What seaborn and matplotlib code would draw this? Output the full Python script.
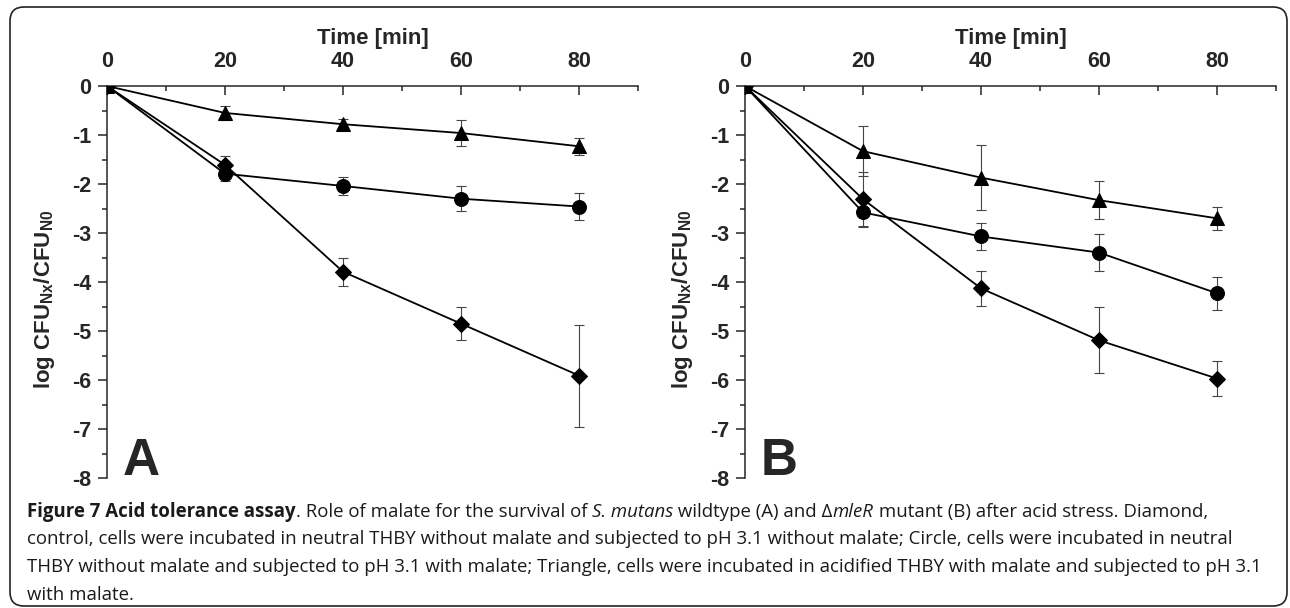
import numpy as np
import pandas as pd
import seaborn as sns
import matplotlib.pyplot as plt
from matplotlib.patches import FancyBboxPatch
from matplotlib.ticker import MultipleLocator
from matplotlib.transforms import IdentityTransform

times = [0, 20, 40, 60, 80]

# panel A (wildtype)
a_diamond = [0, -1.61, -3.79, -4.85, -5.91]
a_diamond_err = [0, 0.19, 0.29, 0.33, 1.04]
a_circle = [0, -1.79, -2.04, -2.30, -2.46]
a_circle_err = [0, 0.15, 0.19, 0.25, 0.28]
a_triangle = [0, -0.55, -0.78, -0.96, -1.23]
a_triangle_err = [0, 0.15, 0.10, 0.26, 0.17]

# panel B (mleR mutant)
b_diamond = [0, -2.31, -4.13, -5.19, -5.97]
b_diamond_err = [0, 0.56, 0.36, 0.67, 0.35]
b_circle = [0, -2.58, -3.07, -3.40, -4.23]
b_circle_err = [0, 0.28, 0.28, 0.38, 0.34]
b_triangle = [0, -1.33, -1.87, -2.33, -2.70]
b_triangle_err = [0, 0.51, 0.66, 0.39, 0.24]

conditions = ["Diamond", "Circle", "Triangle"]
markers = {"Diamond": "D", "Circle": "o", "Triangle": "^"}
marker_sizes = {"Diamond": 8.5, "Circle": 10, "Triangle": 10.5}

panels = {
    "A": {"Diamond": (a_diamond, a_diamond_err),
          "Circle": (a_circle, a_circle_err),
          "Triangle": (a_triangle, a_triangle_err)},
    "B": {"Diamond": (b_diamond, b_diamond_err),
          "Circle": (b_circle, b_circle_err),
          "Triangle": (b_triangle, b_triangle_err)},
}

sns.set_theme(style="ticks")
plt.rcParams["font.family"] = ["Liberation Sans", "DejaVu Sans"]
plt.rcParams["mathtext.fontset"] = "custom"
plt.rcParams["mathtext.bf"] = "Liberation Sans:bold"
plt.rcParams["mathtext.rm"] = "Liberation Sans:bold"

fig = plt.figure(figsize=(12.9, 6.08), dpi=100)
W, H = 1290, 608


def px_axes(left, top, right, bottom):
    return fig.add_axes([left / W, 1 - bottom / H, (right - left) / W, (bottom - top) / H])


ax_a = px_axes(107, 86, 638, 478)
ax_b = px_axes(745, 86, 1276, 478)

for letter, ax in (("A", ax_a), ("B", ax_b)):
    rows = []
    for cond in conditions:
        vals, errs = panels[letter][cond]
        for t, v, e in zip(times, vals, errs):
            rows.append({"Time": t, "value": v, "err": e, "cond": cond})
    df = pd.DataFrame(rows)

    for cond in conditions:
        sub = df[df["cond"] == cond]
        ax.errorbar(sub["Time"], sub["value"], yerr=sub["err"], fmt="none",
                    ecolor="#444444", elinewidth=0.8, capsize=3.5, capthick=0.8,
                    zorder=2)
        sns.lineplot(data=sub, x="Time", y="value", ax=ax, color="black",
                     marker=markers[cond], markersize=marker_sizes[cond],
                     markeredgecolor="black", markerfacecolor="black",
                     linewidth=1.3, zorder=3, legend=False)

    ax.set_xlim(0, 90)
    ax.set_ylim(-8, 0)
    ax.xaxis.tick_top()
    ax.xaxis.set_label_position("top")
    ax.set_xticks([0, 20, 40, 60, 80])
    ax.xaxis.set_minor_locator(MultipleLocator(10))
    ax.yaxis.set_major_locator(MultipleLocator(1))
    ax.yaxis.set_minor_locator(MultipleLocator(0.5))
    ax.spines["right"].set_visible(False)
    ax.spines["bottom"].set_visible(False)
    ax.spines["top"].set_linewidth(1.1)
    ax.spines["left"].set_linewidth(1.1)
    ax.tick_params(axis="x", which="both", direction="in", top=True, bottom=False,
                   width=1.1, labelsize=15.5, pad=10)
    ax.tick_params(axis="x", which="major", length=6.5)
    ax.tick_params(axis="x", which="minor", length=3.5)
    ax.tick_params(axis="y", which="both", direction="out", width=1.1,
                   labelsize=15.5, pad=5)
    ax.tick_params(axis="y", which="major", length=6.5)
    ax.tick_params(axis="y", which="minor", length=3.5)
    ax.set_yticks(range(-8, 1))
    ax.set_yticklabels([str(v) for v in range(-8, 1)])
    for lab in ax.get_xticklabels() + ax.get_yticklabels():
        lab.set_fontweight("bold")

    ax.set_xlabel("Time [min]", fontsize=16, fontweight="bold", labelpad=5)
    ax.set_ylabel(r"log CFU$_{\mathbf{Nx}}$/CFU$_{\mathbf{N0}}$", fontsize=16,
                  fontweight="bold")
    ax.yaxis.set_label_coords(-0.095, 0.455)
    ax.text(2.7, -7.94, letter, fontsize=37, fontweight="bold", ha="left",
            va="baseline")

# rounded frame around the whole figure
frame = FancyBboxPatch((0.10, 0.02), 12.77, 5.99,
                       boxstyle="round,pad=0,rounding_size=0.14",
                       transform=fig.dpi_scale_trans, fill=False,
                       edgecolor="#222222", linewidth=1.2)
fig.patches.append(frame)

# caption
caption_lines = [
    [("Figure 7 Acid tolerance assay", "bold", "normal"),
     (". Role of malate for the survival of ", "normal", "normal"),
     ("S. mutans", "normal", "italic"),
     (" wildtype (A) and \u0394", "normal", "normal"),
     ("mleR", "normal", "italic"),
     (" mutant (B) after acid stress. Diamond,", "normal", "normal")],
    [("control, cells were incubated in neutral THBY without malate and subjected "
      "to pH 3.1 without malate; Circle, cells were incubated in neutral",
      "normal", "normal")],
    [("THBY without malate and subjected to pH 3.1 with malate; Triangle, cells "
      "were incubated in acidified THBY with malate and subjected to pH 3.1",
      "normal", "normal")],
    [("with malate.", "normal", "normal")],
]
baselines = [517, 544.5, 572, 599.5]
cap_size = 13.4
cap_font = ["Open Sans", "DejaVu Sans"]

renderer = fig.canvas.get_renderer()


def text_width(s, weight, style):
    t = fig.text(0, 0, "x" + s + "x", fontsize=cap_size, family=cap_font,
                 fontweight=weight, fontstyle=style, transform=IdentityTransform())
    w = t.get_window_extent(renderer).width
    t.remove()
    t2 = fig.text(0, 0, "xx", fontsize=cap_size, family=cap_font,
                  fontweight=weight, fontstyle=style, transform=IdentityTransform())
    w2 = t2.get_window_extent(renderer).width
    t2.remove()
    return w - w2


for runs, base in zip(caption_lines, baselines):
    x = 27
    for s, weight, style in runs:
        fig.text(x, H - base, s, fontsize=cap_size, family=cap_font,
                 fontweight=weight, fontstyle=style, color="#1a1a1a",
                 ha="left", va="baseline", transform=IdentityTransform())
        x += text_width(s, weight, style)

fig.savefig("out.png", dpi=100)
